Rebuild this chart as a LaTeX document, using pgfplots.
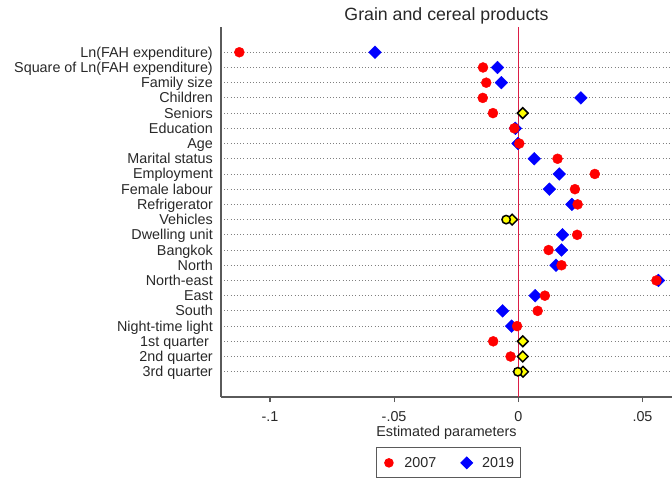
\documentclass[border=0pt]{standalone}
\usepackage{pgfplots}
\pgfplotsset{compat=1.18}
\usepackage{fontspec}
\setmainfont{Liberation Sans}
\definecolor{zeroline}{RGB}{220,30,70}
\definecolor{axgray}{RGB}{90,90,90}
\definecolor{txt}{RGB}{40,40,40}
\definecolor{sigred}{RGB}{255,0,0}
\definecolor{sigblue}{RGB}{0,0,255}
\definecolor{insig}{RGB}{255,255,0}
\begin{document}
\begin{tikzpicture}
\useasboundingbox (-221bp,-82bp) rectangle (451bp,397bp);
\begin{axis}[
  scale only axis, width=451bp, height=370bp,
  xmin=-0.11969, xmax=0.06188, ymin=-0.66, ymax=23.66, y dir=reverse,
  axis x line*=bottom, axis y line*=left,
  axis line style={-, draw=axgray, line width=1.2bp},
  xtick={-0.1,-0.05,0,0.05}, xticklabels={-.1,-.05,0,.05},
  ytick={1,...,22},
  yticklabels={Ln(FAH expenditure),Square of Ln(FAH expenditure),Family size,Children,Seniors,Education,Age,Marital status,Employment,Female labour,Refrigerator,Vehicles,Dwelling unit,Bangkok,North,North-east,East,South,Night-time light,1st quarter\kern4bp,2nd quarter,3rd quarter},
  tick align=outside, major tick length=5bp,
  xtick style={draw=axgray, line width=1.2bp},
  ytick style={draw=none},
  ymajorgrids,
  grid style={draw=gray, dash pattern=on 1bp off 2.2bp, line width=0.8bp},
  xticklabel style={font=\fontsize{14.4}{17}\selectfont, text=txt, anchor=base, inner sep=0pt, yshift=-19.7bp},
  yticklabel style={font=\fontsize{14.4}{17}\selectfont, text=txt, anchor=base east, inner sep=0pt, xshift=-3bp, yshift=-5bp},
  xlabel={Estimated parameters},
  xlabel style={at={(axis description cs:0.5,0)}, anchor=base, inner sep=0pt, yshift=-39.3bp, font=\fontsize{14.4}{17}\selectfont, text=txt},
  title={Grain and cereal products},
  title style={at={(axis description cs:0.5,1)}, anchor=base, inner sep=0pt, yshift=0.5bp, font=\fontsize{17.8}{20}\selectfont, text=txt},
  clip=false,
  legend columns=2,
  legend image code/.code={\draw[#1] plot coordinates {(0bp,0bp)}; \path (-6bp,0bp) (15bp,0bp);},
  legend style={at={(axis description cs:0.504,-0.178)}, anchor=center, draw=axgray, line width=0.9bp,
    font=\fontsize{14.4}{17}\selectfont, text=txt, inner xsep=6bp, inner ysep=9bp,
    nodes={inner sep=0pt},
    /tikz/every even column/.append style={column sep=24bp}},
]
\addlegendimage{only marks, mark=*, mark size=4.3bp, draw=sigred, fill=sigred}
\addlegendentry{2007}
\addlegendimage{only marks, mark=square*, mark size=4.2bp, mark options={rotate=45}, draw=sigblue, fill=sigblue}
\addlegendentry{2019}

\addplot[forget plot, draw=zeroline, line width=1.3bp] coordinates {(0,-0.66) (0,23.66)};

% 2019 significant
\addplot[forget plot, only marks, mark=square*, mark size=4.5bp, mark options={rotate=45, draw=sigblue, fill=sigblue}] coordinates {
(-0.0577,1) (-0.0084,2) (-0.0068,3) (0.0252,4) (-0.0012,6) (-0.0001,7)
(0.0064,8) (0.0165,9) (0.0125,10) (0.0216,11) (0.0178,13) (0.0174,14)
(0.0152,15) (0.0564,16) (0.0068,17) (-0.0063,18) (-0.0027,19)};

% 2007 significant
\addplot[forget plot, only marks, mark=*, mark size=5bp, mark options={draw=sigred, fill=sigred}] coordinates {
(-0.1123,1) (-0.0142,2) (-0.0129,3) (-0.0143,4) (-0.0102,5) (-0.0016,6)
(0.0004,7) (0.0158,8) (0.0308,9) (0.0228,10) (0.0239,11) (0.0237,13)
(0.0122,14) (0.0174,15) (0.0556,16) (0.0107,17) (0.0078,18) (-0.0005,19)
(-0.0101,20) (-0.0031,21)};

% 2019 not significant
\addplot[forget plot, only marks, mark=square*, mark size=3.8bp, mark options={rotate=45, draw=black, fill=insig, line width=1.5bp}] coordinates {
(0.0018,5) (-0.0025,12) (0.0018,20) (0.0018,21) (0.0019,22)};

% 2007 not significant
\addplot[forget plot, only marks, mark=*, mark size=4.2bp, mark options={draw=black, fill=insig, line width=1.5bp}] coordinates {
(-0.0049,12) (-0.0002,22)};
\end{axis}
\end{tikzpicture}
\end{document}
